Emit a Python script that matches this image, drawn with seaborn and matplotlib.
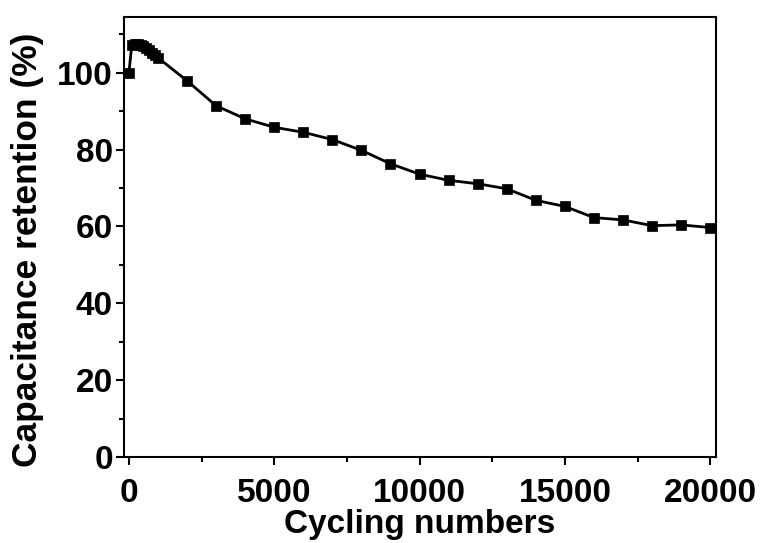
import matplotlib
matplotlib.use('Agg')
import matplotlib.pyplot as plt
import seaborn as sns
import pandas as pd
from matplotlib.ticker import MultipleLocator

# datos
cycles = [0, 100, 200, 300, 400, 500, 600, 700, 800, 900, 1000,
          2000, 3000, 4000, 5000, 6000, 7000, 8000, 9000, 10000,
          11000, 12000, 13000, 14000, 15000, 16000, 17000, 18000, 19000, 20000]
retention = [100.0, 107.3, 107.5, 107.5, 107.3, 107.0, 106.5, 105.9, 105.2, 104.6, 103.9,
             97.9, 91.4, 88.0, 85.8, 84.5, 82.6, 79.8, 76.3, 73.6,
             72.0, 71.1, 69.8, 66.8, 65.2, 62.3, 61.7, 60.2, 60.4, 59.7]

df = pd.DataFrame({'Cycles': cycles, 'Retention': retention})

sns.set_style('ticks')
plt.rcParams['font.family'] = ['Liberation Sans', 'DejaVu Sans']
plt.rcParams['font.weight'] = 'bold'
plt.rcParams['text.color'] = 'black'
plt.rcParams['axes.labelcolor'] = 'black'

fig = plt.figure(figsize=(7.61, 5.43), dpi=100)
ax = fig.add_axes([0.1629, 0.1584, 0.7780, 0.8103])

sns.lineplot(data=df, x='Cycles', y='Retention', ax=ax, estimator=None,
             color='black', linewidth=2, marker='s', markersize=7.5,
             markeredgecolor='black', markeredgewidth=0.5)

ax.set_xlim(-170, 20200)
ax.set_ylim(0, 114.5)
ax.xaxis.set_major_locator(MultipleLocator(5000))
ax.xaxis.set_minor_locator(MultipleLocator(2500))
ax.yaxis.set_major_locator(MultipleLocator(20))
ax.yaxis.set_minor_locator(MultipleLocator(10))

for s in ax.spines.values():
    s.set_linewidth(1.5)
    s.set_color('black')

ax.tick_params(which='major', direction='out', length=6, width=1.5, labelsize=24,
               top=False, right=False, colors='black')
ax.tick_params(which='minor', direction='out', length=3.5, width=1.5,
               top=False, right=False, colors='black')
ax.tick_params(axis='y', which='major', pad=2)
ax.tick_params(axis='x', which='major', pad=9)

for lab in ax.get_xticklabels() + ax.get_yticklabels():
    lab.set_fontweight('bold')

ax.set_xlabel('Cycling numbers', fontsize=24, fontweight='bold', color='black')
ax.set_ylabel('Capacitance retention (%)', fontsize=25.5, fontweight='bold', color='black')
ax.xaxis.set_label_coords(0.5, -0.118)
ax.yaxis.set_label_coords(-0.135, 0.47)

fig.savefig('out.png', dpi=100)
